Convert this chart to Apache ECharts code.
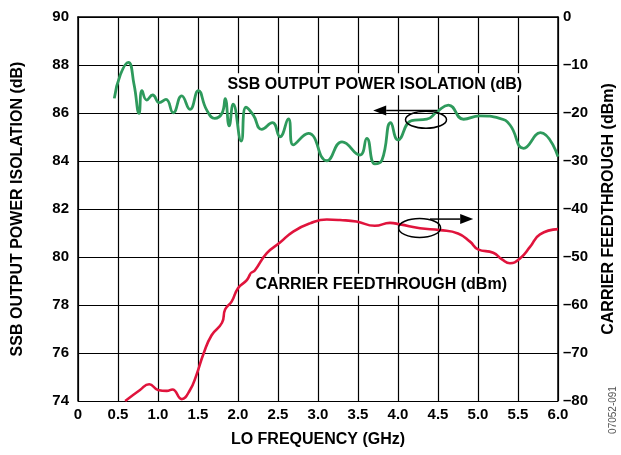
<!DOCTYPE html>
<html><head><meta charset="utf-8">
<script src="https://cdn.jsdelivr.net/npm/echarts@6/dist/echarts.min.js"></script>
<style>html,body{margin:0;padding:0;background:#fff}#c{width:621px;height:455px}</style>
</head><body><div id="c"></div>
<script>
// ---- data ----
var isoFreq = [0.454,0.53,0.629,0.70,0.763,0.80,0.858,0.933,1.017,1.1,1.19,1.296,1.4,1.504,1.608,1.71,1.8,1.84,1.89,1.94,2.04,2.1,2.19,2.296,2.43,2.525,2.63,2.69,2.88,3.11,3.3,3.525,3.61,3.71,3.8,3.91,4.0,4.17,4.36,4.49,4.63,4.82,5.02,5.27,5.4,5.57,5.78,6.0];
var isoVal  = [86.61,87.6,88.11,87.2,85.99,86.93,86.54,86.75,86.43,86.57,86.01,86.71,86.15,86.93,86.13,85.78,85.99,86.6,85.46,86.37,84.83,86.24,85.92,85.32,85.6,85.01,85.75,84.67,85.15,84.01,84.8,84.25,84.94,83.88,84.04,85.6,84.88,85.68,85.74,86.06,86.33,85.74,85.88,85.78,85.5,84.53,85.18,84.18];
var cfFreq = [0.59,0.775,0.89,1.0,1.11,1.18,1.296,1.4,1.48,1.57,1.67,1.8,1.84,1.92,2.0,2.11,2.16,2.21,2.36,2.525,2.69,2.9,3.11,3.275,3.48,3.71,3.9,4.025,4.275,4.525,4.75,4.9,5.0,5.19,5.3,5.4,5.525,5.65,5.775,6.0];
var cfVal  = [-80,-77.7,-76.5,-77.7,-77.9,-77.6,-79.6,-77.7,-74.6,-70.1,-66.3,-63.7,-60.9,-59.3,-56.5,-54.8,-53.4,-52.8,-49.2,-47.0,-44.7,-43.0,-42.2,-42.3,-42.6,-43.5,-42.9,-43.2,-44.0,-44.4,-45.1,-46.8,-48.4,-49.1,-50.5,-51.3,-50.3,-47.9,-45.3,-44.2];
var xTicks = ['0','0.5','1.0','1.5','2.0','2.5','3.0','3.5','4.0','4.5','5.0','5.5','6.0'];
var isoLabel = 'SSB OUTPUT POWER ISOLATION (dB)';
var cfLabel = 'CARRIER FEEDTHROUGH (dBm)';
var xLabel = 'LO FREQUENCY (GHz)';
var figCode = '07052-091';
// annotation anchors (data units): [freq, value, axisIndex]
var isoTextAt = [3.71, 87.2, 0];
var cfTextAt = [3.79, -55.8, 1];
var isoEllipseAt = [4.35, 85.72, 0];
var isoArrowFrom = [4.49, 86.1, 0], isoArrowTo = [3.69, 86.1, 0];
var cfEllipseAt = [4.27, -43.95, 1];
var cfArrowFrom = [4.4, -42.1, 1], cfArrowTo = [4.94, -42.1, 1];

var FONT = '"Liberation Sans", Arial, Helvetica, sans-serif';
var chart = echarts.init(document.getElementById('c'));
function zip(a,b){return a.map(function(v,i){return [v,b[i]];});}
var tickStyle = {color:'#000', fontFamily:FONT, fontWeight:'bold', fontSize:15};
chart.setOption({
  animation:false,
  backgroundColor:'#fff',
  grid:{left:78,right:63,top:17,bottom:54,containLabel:false,outerBoundsMode:'none'},
  xAxis:{type:'value',min:0,max:6,interval:0.5,
    name:xLabel,nameLocation:'middle',nameGap:31,
    nameTextStyle:{color:'#000',fontFamily:FONT,fontWeight:'bold',fontSize:16},
    axisLine:{lineStyle:{color:'#000',width:1.5}},axisTick:{show:false},
    axisLabel:Object.assign({margin:6,formatter:function(v){return xTicks[Math.round(v/0.5)];}},tickStyle),
    splitLine:{show:true,lineStyle:{color:'#000',width:1.2}}},
  yAxis:[
    {type:'value',min:74,max:90,interval:2,position:'left',
     name:isoLabel,nameLocation:'middle',nameGap:52,nameRotate:90,
     nameTextStyle:{color:'#000',fontFamily:FONT,fontWeight:'bold',fontSize:16},
     axisLine:{show:true,lineStyle:{color:'#000',width:1.5}},axisTick:{show:false},
     axisLabel:Object.assign({margin:9},tickStyle),
     splitLine:{show:true,lineStyle:{color:'#000',width:1.2}}},
    {type:'value',min:-80,max:0,interval:10,position:'right',
     name:cfLabel,nameLocation:'middle',nameGap:43,nameRotate:90,
     nameTextStyle:{color:'#000',fontFamily:FONT,fontWeight:'bold',fontSize:16},
     axisLine:{show:true,lineStyle:{color:'#000',width:1.5}},axisTick:{show:false},
     axisLabel:Object.assign({margin:5,formatter:function(v){return String(v).replace('-','\u2013');}},tickStyle),
     splitLine:{show:false}}
  ],
  series:[
    {type:'line',yAxisIndex:0,data:zip(isoFreq,isoVal),smooth:0.5,showSymbol:false,
     lineStyle:{color:'#2e9a5c',width:2.8},z:3},
    {type:'line',yAxisIndex:1,data:zip(cfFreq,cfVal),smooth:0.5,showSymbol:false,
     lineStyle:{color:'#e0143c',width:2.6},z:3}
  ]
});

function px(p){return chart.convertToPixel({xAxisIndex:0,yAxisIndex:p[2]},[p[0],p[1]]);}
function arrow(from,to){
  var a=px(from), b=px(to), dir = b[0]>a[0]?1:-1, L=13, H=5;
  return [
    {type:'line',shape:{x1:a[0],y1:a[1],x2:b[0]-dir*L,y2:b[1]},style:{stroke:'#000',lineWidth:1.5},z:20},
    {type:'polygon',shape:{points:[[b[0],b[1]],[b[0]-dir*L,b[1]-H],[b[0]-dir*L,b[1]+H]]},style:{fill:'#000'},z:20}
  ];
}
function ellipse(p,rx,ry){
  var c=px(p);
  return {type:'ellipse',shape:{cx:c[0],cy:c[1],rx:rx,ry:ry},style:{fill:null,stroke:'#000',lineWidth:1.5},z:20};
}
function label(p,text){
  var c=px(p);
  return {type:'text',x:c[0],y:c[1],z:20,style:{text:text,fill:'#000',font:'bold 16px '+FONT,
    align:'center',verticalAlign:'middle',backgroundColor:'#fff',padding:[3,4]}};
}
var g=[label(isoTextAt,isoLabel),label(cfTextAt,cfLabel),
  ellipse(isoEllipseAt,20.5,8.5),ellipse(cfEllipseAt,21,9.5)]
  .concat(arrow(isoArrowFrom,isoArrowTo)).concat(arrow(cfArrowFrom,cfArrowTo));
g.push({type:'text',x:613,y:410,rotation:Math.PI/2,z:20,style:{text:figCode,fill:'#555',font:'10px '+FONT,align:'center',verticalAlign:'middle'}});
chart.setOption({graphic:g});
</script></body></html>
